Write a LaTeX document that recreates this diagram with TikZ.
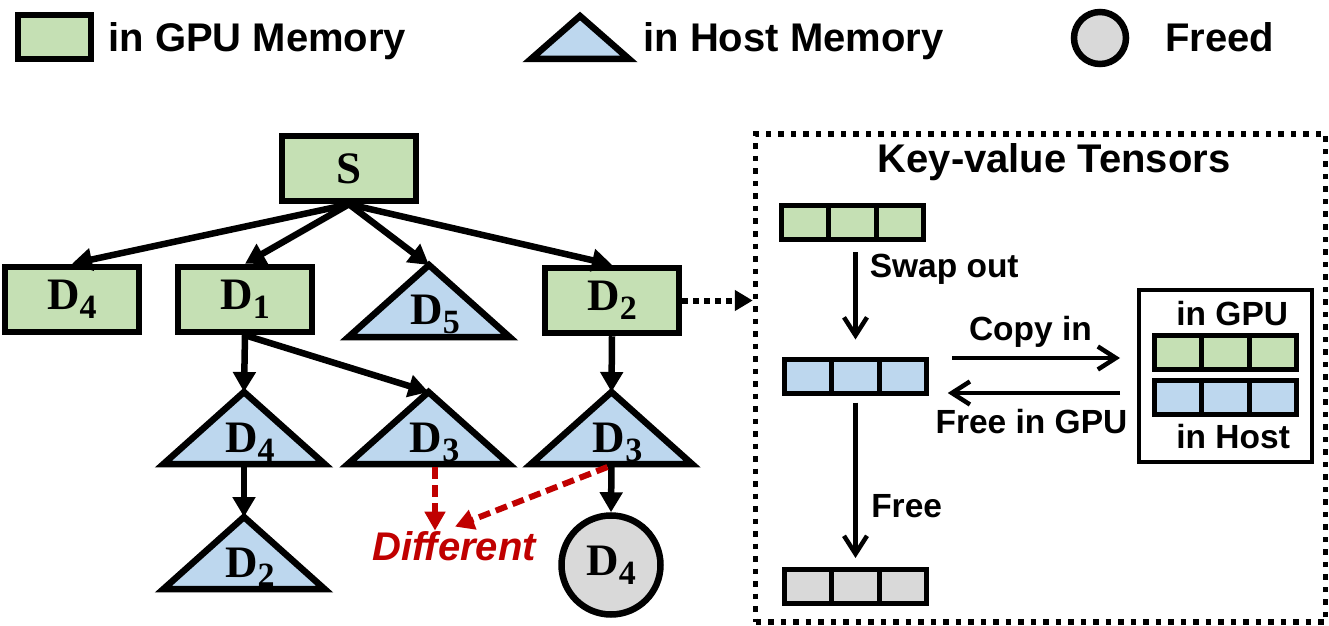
\documentclass[tikz,border=0pt]{standalone}
\usepackage{fontspec}
\setmainfont{Liberation Sans}
\newfontfamily\dfont{Liberation Serif}
\usetikzlibrary{positioning,shapes.geometric,arrows.meta}
\definecolor{gpu}{HTML}{C5E0B4}
\definecolor{host}{HTML}{BDD7EE}
\definecolor{freed}{HTML}{D9D9D9}
\definecolor{diffred}{HTML}{C00000}
\newcommand{\dlab}[1]{D\raisebox{-4.5pt}{\fontsize{17}{18}\selectfont #1}}
\begin{document}
\begin{tikzpicture}[x=0.5pt,y=-0.5pt,
    dfnt/.style={font=\dfont\bfseries\fontsize{22.5}{24}\selectfont},
    gbox/.style={draw,line width=3.25pt,fill=gpu,rectangle,minimum width=67pt,minimum height=32.5pt,inner sep=0pt,dfnt},
    htri/.style={draw,line width=3.25pt,fill=host,isosceles triangle,isosceles triangle stretches,shape border rotate=90,minimum width=80.5pt,minimum height=36pt,inner sep=0pt,outer sep=0pt},
    fcirc/.style={draw,line width=3.25pt,fill=freed,circle,minimum size=49.5pt,inner sep=0pt,dfnt},
    cell/.style={draw,line width=2.5pt,minimum width=23.75pt,minimum height=17pt,inner sep=0pt,outer sep=0pt},
    kvframe/.style={draw,line width=2.75pt,dash pattern=on 2.75pt off 3.5pt,minimum width=285pt,minimum height=244pt,inner sep=0pt},
    hbox/.style={draw,line width=2pt,minimum width=86.5pt,minimum height=86pt,inner sep=0pt},
    txt/.style={inner sep=0pt,font=\bfseries\fontsize{20}{24}\selectfont},
    stxt/.style={inner sep=0pt,font=\bfseries\fontsize{16.75}{20}\selectfont},
    difftxt/.style={inner sep=0pt,text=diffred,font=\bfseries\itshape\fontsize{20}{24}\selectfont},
    tarrow/.style={line width=3.25pt,-{Triangle[length=10pt,width=11pt]}},
    rarrow/.style={diffred,line width=3pt,dash pattern=on 6pt off 3pt,-{Triangle[length=9.5pt,width=10pt]}},
    dotarrow/.style={line width=3pt,dash pattern=on 3pt off 2.5pt,-{Triangle[length=9pt,width=10pt]}},
    flow/.style={line width=2.25pt,-{Straight Barb[length=9pt,width=11.5pt]}}]
    \useasboundingbox (0,0) rectangle (1329,626);
    %% Legend
    \node[gbox,minimum width=36.5pt,minimum height=22pt] (lgpu) at (54.5,37) {};
    \node[txt,anchor=base west] (tgpu) at (108,52) {in GPU Memory};
    \node[htri,minimum width=49pt,minimum height=21.5pt,anchor=lower side] (lhost) at (580,59) {};
    \node[txt,anchor=base west] (thost) at (643,52) {in Host Memory};
    \node[fcirc,minimum size=26pt] (lfree) at (1100,38) {};
    \node[txt,anchor=base west] (tfree) at (1165,52) {Freed};
    %% Tree
    \node[gbox] (s) at (349,168.5) {S};
    \node[gbox] (d4a) at (72,299.5) {\dlab{4}};
    \node[gbox] (d1) at (245,299.5) {\dlab{1}};
    \node[htri,anchor=lower side] (d5) at (429,337) {};
    \node[dfnt,anchor=base] (d5l) at ([shift={(6,-13)}]d5.lower side) {\dlab{5}};
    \node[gbox] (d2a) at (612,300.5) {\dlab{2}};
    \node[htri,anchor=lower side] (d4b) at (244,464) {};
    \node[dfnt,anchor=base] (d4bl) at ([shift={(6,-12)}]d4b.lower side) {\dlab{4}};
    \node[htri,anchor=lower side] (d3a) at (428.5,464) {};
    \node[dfnt,anchor=base] (d3al) at ([shift={(6,-12)}]d3a.lower side) {\dlab{3}};
    \node[htri,anchor=lower side] (d3b) at (611.5,464) {};
    \node[dfnt,anchor=base] (d3bl) at ([shift={(6,-12)}]d3b.lower side) {\dlab{3}};
    \node[htri,anchor=lower side] (d2b) at (244,589) {};
    \node[dfnt,anchor=base] (d2bl) at ([shift={(6,-12)}]d2b.lower side) {\dlab{2}};
    \node[fcirc] (d4c) at (611,565) {\dlab{4}};
    \node[difftxt,anchor=base] (diff) at (454,560) {Different};
    %% Edges
    \draw[tarrow] (s.south) -- (d4a.north);
    \draw[tarrow] (s.south) -- (d1.north);
    \draw[tarrow] (s.south) -- (d5.apex);
    \draw[tarrow] (s.south) -- (d2a.north);
    \draw[tarrow] (d1.south) -- (d4b.apex);
    \draw[tarrow] (d1.south) -- (d3a.apex);
    \draw[tarrow] (d2a.south) -- (d3b.apex);
    \draw[tarrow] (d4b.lower side) -- (d2b.apex);
    \draw[tarrow] (d3b.lower side) -- (d4c.north);
    \draw[rarrow] ([shift={(6.5,3)}]d3a.lower side) -- ([shift={(-19,0)}]diff.north);
    \draw[rarrow] ([shift={(-4,3)}]d3b.lower side) -- ([shift={(1,-4)}]diff.north);
    %% Key-value tensors
    \node[kvframe] (kv) at (1040.5,378) {};
    \node[txt,anchor=base] (kvt) at (1054,173) {Key-value Tensors};
    \node[hbox] (hostbox) at (1225.5,376) {};
    \foreach \nm/\cx/\cy/\col in {g/805/222.5/gpu,b/808/376/host,f/808/586/freed,ig/1178/352/gpu,ih/1178/397.5/host}{
        \node[cell,fill=\col] (\nm1) at (\cx,\cy) {};
        \node[cell,fill=\col,right=0pt of \nm1] (\nm2) {};
        \node[cell,fill=\col,right=0pt of \nm2] (\nm3) {};
    }
    \node[stxt,anchor=base west] (tigpu) at (1176,325) {in GPU};
    \node[stxt,anchor=base west] (tihost) at (1176,448) {in Host};
    \draw[dotarrow] (d2a.east) -- (d2a.east -| kv.west);
    \draw[flow,shorten <=6.25pt,shorten >=9.75pt] (b2.north |- g2.south) -- (b2.north)
        node[stxt,pos=.32,anchor=base west,xshift=6pt] (lswap) {Swap out};
    \draw[flow,shorten <=4.75pt,shorten >=5.5pt] (b2.south) -- (f2.north)
        node[stxt,pos=.705,anchor=base west,xshift=6.75pt] (lfreed) {Free};
    \draw[flow] ([shift={(25.5,-18)}]b3.east) -- ([shift={(-17,-18)}]hostbox.west)
        node[stxt,pos=.466,anchor=base,yshift=9pt] (lcopy) {Copy in};
    \draw[flow] ([shift={(-17,17)}]hostbox.west) -- ([shift={(21,17)}]b3.east)
        node[stxt,pos=.514,anchor=base,yshift=-20pt] (lfgpu) {Free in GPU};
\end{tikzpicture}
\end{document}
